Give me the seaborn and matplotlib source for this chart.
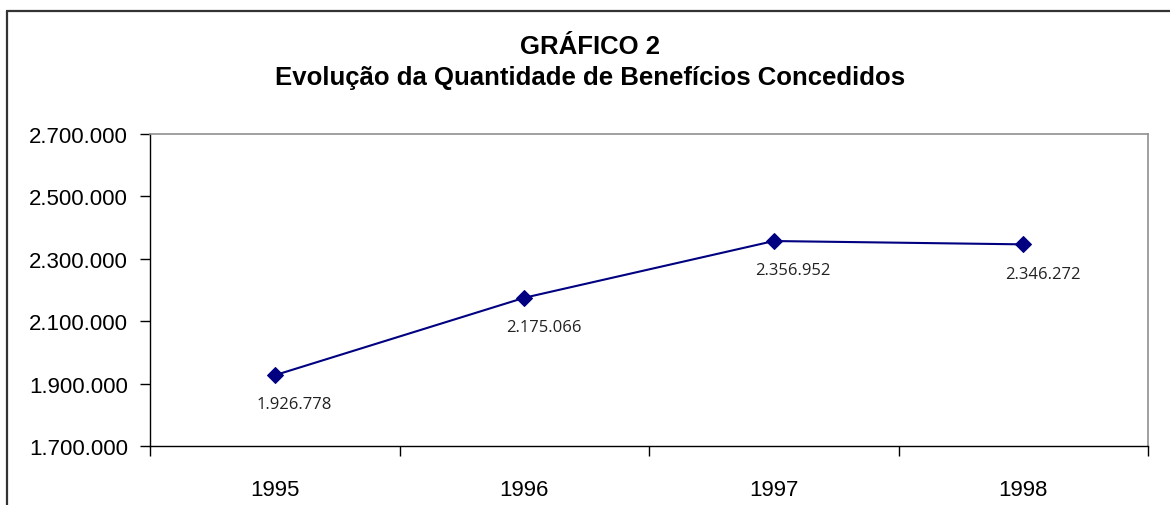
import matplotlib
matplotlib.use('Agg')
import matplotlib.pyplot as plt
import matplotlib.ticker as mticker
import numpy as np
import pandas as pd
import seaborn as sns

# data
years = ['1995', '1996', '1997', '1998']
beneficios = [1926778, 2175066, 2356952, 2346272]
labels = ['1.926.778', '2.175.066', '2.356.952', '2.346.272']
y_ticks = [1700000, 1900000, 2100000, 2300000, 2500000, 2700000]

sns.set_style('white')
plt.rcParams['font.family'] = ['Liberation Sans', 'DejaVu Sans']
plt.rcParams['text.color'] = 'black'
plt.rcParams['xtick.color'] = 'black'
plt.rcParams['ytick.color'] = 'black'

df = pd.DataFrame({'ano': years, 'pos': np.arange(len(years)), 'valor': beneficios})

fig = plt.figure(figsize=(11.7, 5.06), dpi=100)
ax = fig.add_axes([150 / 1170, 59 / 506, 998 / 1170, 312 / 506])

sns.lineplot(x='pos', y='valor', data=df, ax=ax, color='#000080', linewidth=1.5,
             marker='D', markersize=8.5, markeredgecolor='#000080')

for p, v, t in zip(df['pos'], df['valor'], labels):
    ax.annotate(t, (p, v), xytext=(14, -21), textcoords='offset points',
                ha='center', va='center', fontsize=12, color='#222222',
                family=['Open Sans', 'DejaVu Sans'])

ax.set_xlim(-0.5, len(years) - 0.5)
ax.set_ylim(1700000, 2700000)
ax.set_yticks(y_ticks)
ax.yaxis.set_major_formatter(mticker.FuncFormatter(lambda v, _: f'{int(v):,}'.replace(',', '.')))
ax.tick_params(axis='y', direction='out', length=7, width=1, color='black',
               labelsize=16, pad=9, left=True)

# ticks between categories, labels at centers
ax.set_xticks(np.arange(-0.5, len(years), 1.0))
ax.set_xticklabels([])
ax.set_xticks(np.arange(len(years)), minor=True)
ax.set_xticklabels(years, minor=True)
ax.tick_params(axis='x', which='major', direction='out', length=7, width=1, color='black', bottom=True)
ax.tick_params(axis='x', which='minor', length=0, labelsize=16, pad=24)

ax.set_xlabel('')
ax.set_ylabel('')
for s in ['left', 'bottom']:
    ax.spines[s].set_color('black')
    ax.spines[s].set_linewidth(1)
for s in ['top', 'right']:
    ax.spines[s].set_color('#909090')
    ax.spines[s].set_linewidth(1.2)

fig.text(0.504, 1 - 47 / 506, 'GRÁFICO 2', ha='center', va='center',
         fontsize=18.5, fontweight='bold')
fig.text(0.504, 1 - 78 / 506, 'Evolução da Quantidade de Benefícios Concedidos',
         ha='center', va='center', fontsize=18.5, fontweight='bold')

# outer chart frame (runs off the right and bottom edges)
fig.add_artist(plt.Line2D([7 / 1170, 1.01], [1 - 12 / 506] * 2, color='#333333', linewidth=1.6))
fig.add_artist(plt.Line2D([7 / 1170] * 2, [-0.01, 1 - 12 / 506], color='#333333', linewidth=1.6))

fig.savefig('out.png', dpi=100)
